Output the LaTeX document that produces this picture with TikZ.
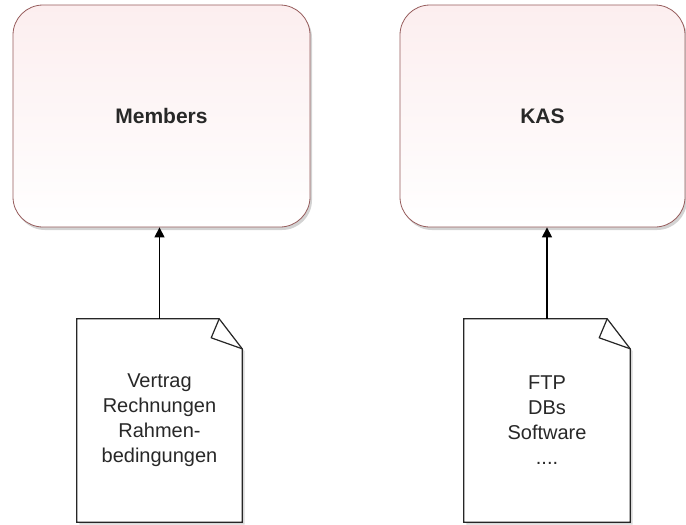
\documentclass[tikz,border=0pt]{standalone}
\usepackage{fontspec}
\setmainfont{Liberation Sans}
\usetikzlibrary{arrows.meta,shadows,calc,backgrounds}

\definecolor{boxtop}{RGB}{252,238,239}
\definecolor{boxmid}{RGB}{250,226,229}
\definecolor{boxline}{RGB}{150,92,92}
\definecolor{txt}{RGB}{40,40,40}

\tikzset{
  unit/.style={rounded corners=30pt, draw=boxline, line width=0.8pt,
    top color=boxtop, middle color=boxmid, bottom color=white,
    drop shadow={opacity=0.35, shadow xshift=2pt, shadow yshift=-3pt},
    text=txt, font=\fontsize{21}{25}\selectfont\bfseries},
  docbox/.style={minimum width=165pt, minimum height=203pt, align=center,
    text=txt, font=\fontsize{20}{25}\selectfont},
  docline/.style={draw=black!85, line width=1.2pt, fill=white,
    drop shadow={opacity=0.3, shadow xshift=2.5pt, shadow yshift=-2.5pt}},
  feed/.style={draw=black, line width=1.3pt, -{Triangle[width=10pt,length=10pt]}},
}

\begin{document}
\begin{tikzpicture}[x=1pt, y=-1pt]
    \useasboundingbox (0,0) rectangle (686,525);

    % the two units
    \node [unit, minimum width=297pt, minimum height=222pt] (members) at (161.5,116) {Members};
    \node [unit, minimum width=285pt, minimum height=222pt] (kas) at (542.5,116) {KAS};

    % the documents
    \node [docbox] (contract) at (159.5,420.5) {Vertrag\\Rechnungen\\Rahmen-\\bedingungen};
    \node [docbox, minimum width=166pt] (infra) at (547,420.5) {FTP\\DBs\\Software\\....};

    \begin{pgfonlayer}{background}
        \foreach \d in {contract, infra} {
            \draw [docline] (\d.south west) -- (\d.north west)
                -- ($(\d.north east)+(-23,0)$) -- ($(\d.north east)+(0,30)$)
                -- (\d.south east) -- cycle;
            \draw [draw=black!85, line width=1.2pt, line join=round]
                ($(\d.north east)+(-23,0)$) -- ($(\d.north east)+(-31,19)$)
                -- ($(\d.north east)+(0,30)$);
        }
    \end{pgfonlayer}

    % connectors
    \draw [feed] (contract.north) -- (contract.north |- members.south);
    \draw [feed] (infra.north) -- (infra.north |- kas.south);
\end{tikzpicture}
\end{document}
